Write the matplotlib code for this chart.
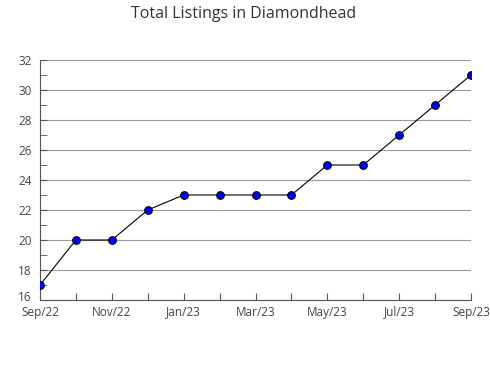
import numpy as np
import matplotlib.pyplot as plt
import matplotlib.transforms as mtransforms

plt.rcParams['font.family'] = ['Open Sans', 'DejaVu Sans']

months = ['Sep/22', 'Oct/22', 'Nov/22', 'Dec/22', 'Jan/23', 'Feb/23', 'Mar/23',
          'Apr/23', 'May/23', 'Jun/23', 'Jul/23', 'Aug/23', 'Sep/23']
listings = [17, 20, 20, 22, 23, 23, 23, 23, 25, 25, 27, 29, 31]

fig = plt.figure(figsize=(4.9, 3.8), dpi=100)
ax = fig.add_axes([40 / 490, 80 / 380, 431 / 490, 240 / 380])

x = np.arange(len(months))
ax.plot(x, listings, color='black', lw=0.8, zorder=3)
ax.plot(x, listings, 'o', ms=5.5, mfc='#0000ff', mec='black', mew=0.8, zorder=4)

ax.set_xlim(0, len(months) - 1)
ax.set_ylim(16, 32)
ax.set_yticks(np.arange(16, 33, 2))
ax.set_yticks(np.arange(17, 32, 2), minor=True)
ax.set_xticks(x)
ax.set_xticklabels([m if i % 2 == 0 else '' for i, m in enumerate(months)])
ax.grid(axis='y', color='#999999', lw=0.8)
ax.set_axisbelow(True)

for s in ['top', 'right']:
    ax.spines[s].set_visible(False)
for s in ['left', 'bottom']:
    ax.spines[s].set_color('#555555')
ax.tick_params(direction='in', length=5, color='#555555', labelsize=8.5,
               labelcolor='#444444')
ax.tick_params(axis='y', which='minor', direction='in', length=5, color='#555555')
ax.tick_params(axis='y', pad=6)
ax.tick_params(axis='x', pad=4)
# the bottom y label sits a little higher, as in the original
lab = ax.get_yticklabels()[0]
lab.set_transform(lab.get_transform() +
                  mtransforms.ScaledTranslation(0, 3 / 72, fig.dpi_scale_trans))

fig.suptitle('Total Listings in Diamondhead', x=244 / 490, y=0.985,
             fontsize=11.5, color='#333333')

fig.savefig('out.png')
